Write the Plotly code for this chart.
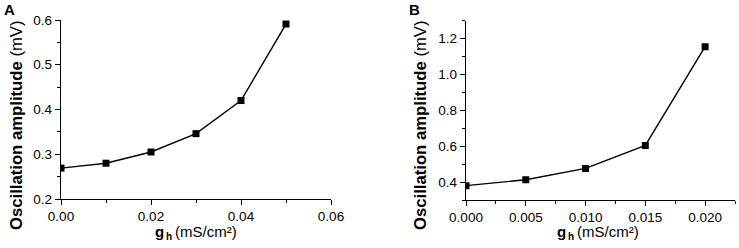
import plotly.graph_objects as go

# Panel A data
gh_a = [0.00, 0.01, 0.02, 0.03, 0.04, 0.05]
amp_a = [0.269, 0.280, 0.305, 0.346, 0.420, 0.591]
# Panel B data
gh_b = [0.000, 0.005, 0.010, 0.015, 0.020]
amp_b = [0.380, 0.413, 0.476, 0.604, 1.154]

W, H = 739, 248
FONT = "Liberation Sans, Arial, sans-serif"

def px(x):
    return x / W

def py(y):
    return 1 - y / H

fig = go.Figure()
line = dict(color="black", width=1.4)
marker = dict(symbol="square", size=7, color="black")
fig.add_trace(go.Scatter(x=gh_a, y=amp_a, mode="lines+markers", line=line, marker=marker,
                         xaxis="x", yaxis="y", showlegend=False))
fig.add_trace(go.Scatter(x=gh_b, y=amp_b, mode="lines+markers", line=line, marker=marker,
                         xaxis="x2", yaxis="y2", showlegend=False))

def axis(domain, rng, dtick, minor, fmt, anchor):
    return dict(domain=domain, range=rng, dtick=dtick, tick0=0, tickformat=fmt,
                automargin=False,
                showline=True, linecolor="black", linewidth=1.4, ticks="outside",
                ticklen=5, tickwidth=1.4, tickcolor="black", showgrid=False, zeroline=False,
                minor=dict(dtick=minor, ticks="outside", ticklen=3, tickwidth=1.4,
                           tickcolor="black", showgrid=False),
                tickfont=dict(family=FONT, size=13.5, color="black"), anchor=anchor)

fig.update_layout(
    width=W, height=H, margin=dict(l=0, r=0, t=0, b=0, autoexpand=False),
    paper_bgcolor="white", plot_bgcolor="white",
    xaxis=axis([px(61), px(331)], [0, 0.06], 0.02, 0.01, ".2f", "y"),
    yaxis=axis([py(199), py(20)], [0.2, 0.6], 0.1, 0.05, ".1f", "x"),
    xaxis2=axis([px(466), px(735)], [0, 0.0225], 0.005, 0.0025, ".3f", "y2"),
    yaxis2=axis([py(200), py(20.5)], [0.3, 1.3], 0.2, 0.1, ".1f", "x2"),
)

ann = []
for xc, ytxt in [(16, "<b>Oscillation amplitude</b> (mV)"), (420, "<b>Oscillation amplitude</b> (mV)")]:
    ann.append(dict(x=px(xc), y=py(125), xref="paper", yref="paper", text=ytxt,
                    textangle=-90, showarrow=False, xanchor="center", yanchor="middle",
                    font=dict(family=FONT, size=16.7, color="black")))
# x-axis titles: "g" + subscript "h" + "(mS/cm²)"
for x0 in [155, 557]:
    ann.append(dict(x=px(x0), y=py(231.5), xref="paper", yref="paper", text="<b>g</b>",
                    showarrow=False, xanchor="left", yanchor="middle", borderpad=0, borderwidth=0,
                    font=dict(family=FONT, size=15, color="black")))
    ann.append(dict(x=px(x0 + 10.5), y=py(236), xref="paper", yref="paper", text="<b>h</b>",
                    showarrow=False, xanchor="left", yanchor="middle", borderpad=0, borderwidth=0,
                    font=dict(family=FONT, size=10, color="black")))
    ann.append(dict(x=px(x0 + 20), y=py(231.5), xref="paper", yref="paper", text="(mS/cm²)",
                    showarrow=False, xanchor="left", yanchor="middle", borderpad=0, borderwidth=0,
                    font=dict(family=FONT, size=15, color="black")))
for xc, t in [(9, "A"), (414, "B")]:
    ann.append(dict(x=px(xc), y=py(10), xref="paper", yref="paper", text=f"<b>{t}</b>",
                    showarrow=False, xanchor="center", yanchor="middle",
                    font=dict(family=FONT, size=15, color="black")))
fig.update_layout(annotations=ann)

fig.write_html("out.html", config={"displayModeBar": False},
               post_script="document.body.style.margin='0';")
